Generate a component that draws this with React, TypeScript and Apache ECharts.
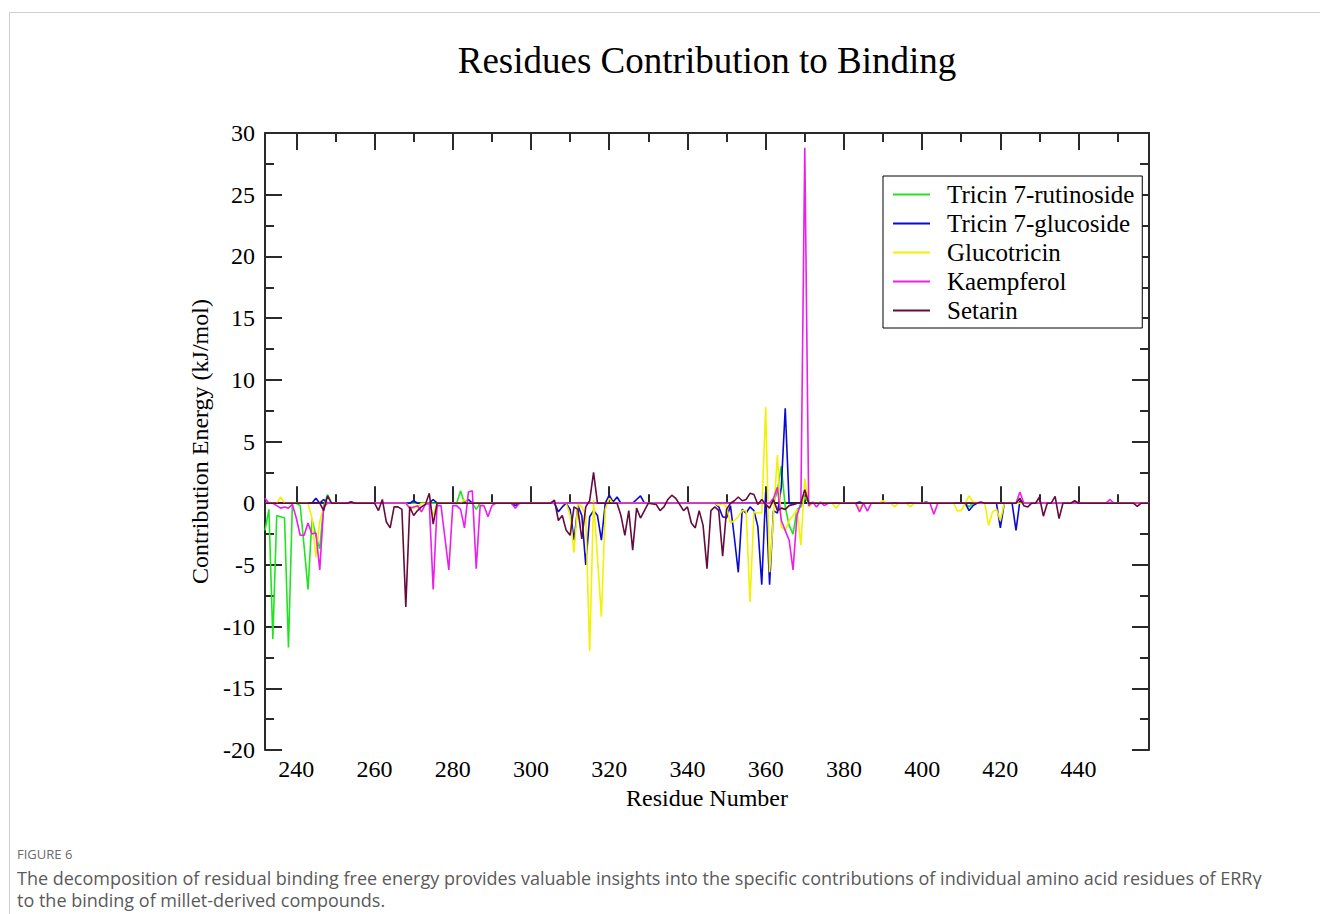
import React, { useEffect, useRef } from "react";
import * as echarts from "echarts";

const seriesNames = ["Tricin 7-rutinoside", "Tricin 7-glucoside", "Glucotricin", "Kaempferol", "Setarin"];
const seriesColors = ["#1ee61e", "#0a0ad2", "#f2f200", "#ec1eec", "#650c3c"];

const majorX = [240, 260, 280, 300, 320, 340, 360, 380, 400, 420, 440];
const minorX = [250, 270, 290, 310, 330, 350, 370, 390, 410, 430, 450];

const rutinoside: [number, number][] = [
  [232, -2.2], [233, -0.5], [234, -11.0], [235, -1.0], [236, -1.1], [237, -1.2], [238, -11.7], [239, 0], [240, 0],
  [241, -0.2], [242, -3.5], [243, -7.0], [244, -1.3], [245, -2.6], [246, -3.7], [247, -0.2], [248, 0.7], [249, 0],
  [281, 0], [282, 1.0], [283, 0], [285, 0], [286, -0.5], [287, 0], [362, 0], [363, 1.0], [364, 3.0], [365, -0.3],
  [366, -1.8], [367, -2.5], [368, -0.5], [369, -0.3], [370, 0.5], [371, 0], [411, 0], [412, -0.3], [413, 0], [458, 0],
];

const glucoside: [number, number][] = [
  [232, 0.1], [233, 0], [244, 0], [245, 0.4], [246, 0], [247, 0.3], [248, 0], [253, 0], [254, 0.1], [255, 0],
  [269, 0], [270, 0.2], [271, 0], [274, 0], [275, 0.3], [276, 0], [283, 0], [284, 0.3], [285, 0], [295, 0],
  [296, -0.2], [297, 0], [306, 0], [307, -0.7], [308, -0.3], [309, 0], [310, -0.5], [311, -3.0], [312, -0.2],
  [313, -1.0], [314, -5.0], [315, -1.1], [316, -0.6], [317, -1.0], [318, -3.0], [319, 0], [320, 0.65], [321, 0.1],
  [322, 0.5], [323, 0], [326, 0], [327, 0.3], [328, 0.6], [329, 0], [347, 0], [348, -0.3], [349, -1.1], [350, -1.2],
  [351, -0.2], [352, -2.8], [353, -5.6], [354, -0.5], [355, -0.8], [356, -0.3], [357, -0.6], [358, -1.9],
  [359, -6.6], [360, 0.9], [361, -6.6], [362, -0.6], [363, -0.8], [364, 1.3], [365, 7.7], [366, 0], [367, -0.1],
  [368, 0], [383, 0], [384, 0.1], [385, 0], [400, 0], [401, 0.1], [402, 0], [411, 0], [412, -0.6], [413, -0.2],
  [414, 0], [419, 0], [420, -2.0], [421, 0], [423, 0], [424, -2.2], [425, 0.2], [426, 0], [458, 0],
];

const glucotricin: [number, number][] = [
  [232, 0], [235, 0], [236, 0.5], [237, 0], [243, 0], [244, -1.2], [245, -4.4], [246, -1.5], [247, -0.3], [248, 0],
  [268, 0], [269, -0.3], [270, -0.4], [271, -0.3], [272, 0], [274, 0], [275, -1.0], [276, 0], [282, 0], [283, 0.3],
  [284, 0], [309, 0], [310, -1.0], [311, -4.0], [312, 0], [313, -0.3], [314, -1.0], [315, -12.0], [316, 0.3],
  [317, -4.4], [318, -9.2], [319, -0.5], [320, 0.4], [321, 0], [347, 0], [348, -0.2], [349, 0], [350, -0.3],
  [351, -1.6], [352, -1.4], [353, -1.1], [354, -0.6], [355, -0.6], [356, -8.0], [357, -0.7], [358, -0.8],
  [359, -0.8], [360, 7.8], [361, -5.6], [362, -1.0], [363, 3.9], [364, -1.9], [365, -2.2], [366, -1.4], [367, -1.0],
  [368, -0.5], [369, -3.4], [370, 2.0], [371, -0.3], [372, 0], [377, 0], [378, -0.4], [379, 0], [383, 0],
  [384, -0.4], [385, 0], [389, 0], [390, 0.2], [391, 0], [392, 0], [393, -0.3], [394, 0], [396, 0], [397, -0.3],
  [398, 0], [408, 0], [409, -0.6], [410, -0.6], [411, 0], [412, 0.6], [413, 0.1], [416, 0], [417, -1.8],
  [418, -0.7], [419, -0.5], [420, -1.4], [421, 0], [458, 0],
];

const kaempferol: [number, number][] = [
  [232, 0.4], [233, 0], [234, 0], [235, -0.2], [236, -0.4], [237, -0.3], [238, -0.4], [239, -0.1], [240, -1.2],
  [241, -2.6], [242, -2.6], [243, -1.6], [244, -2.5], [245, -2.4], [246, -5.4], [247, -0.3], [248, 0], [268, 0],
  [269, -0.4], [270, -0.3], [271, -0.2], [272, -0.7], [273, -0.1], [274, 0], [275, -7.0], [276, -0.2], [277, -0.2],
  [279, -5.4], [280, -0.2], [281, -0.2], [282, -0.5], [283, -2.0], [284, 0.9], [285, 1.0], [286, -5.3], [287, -0.2],
  [288, -0.2], [289, -1.1], [290, -0.2], [291, 0], [295, 0], [296, -0.4], [297, 0], [361, 0], [362, 0.4],
  [363, 1.3], [364, -1.4], [365, -2.2], [366, -3.0], [367, -5.4], [368, -1.0], [369, 0], [370, 28.8], [371, -0.2],
  [372, 0.1], [373, -0.3], [374, 0.1], [375, -0.2], [376, 0], [383, 0], [384, -0.7], [385, 0], [386, -0.65],
  [387, 0], [402, 0], [403, -0.9], [404, 0], [424, 0], [425, 0.9], [426, 0], [447, 0], [448, 0.3], [449, 0], [458, 0],
];

const setarin: [number, number][] = [
  [232, 0], [246, 0], [247, -0.6], [248, 0.6], [249, 0], [253, 0], [254, 0.1], [255, 0], [260, 0], [261, -0.6],
  [262, 0.3], [263, -1.5], [264, -2.0], [265, -0.3], [266, -0.3], [267, -0.5], [268, -8.4], [269, -0.3],
  [270, -1.0], [271, -0.6], [272, -0.3], [273, -0.1], [274, 0.8], [275, -1.7], [276, 0], [305, 0], [306, 0.25],
  [307, -1.4], [308, -1.0], [309, -2.2], [310, -2.6], [311, -0.3], [312, -0.5], [313, -2.9], [314, -0.3],
  [315, 0.2], [316, 2.5], [317, 0], [322, 0], [323, -1.0], [324, -2.6], [325, -0.6], [326, -3.8], [327, -0.4],
  [328, -1.2], [329, -0.6], [330, 0], [332, -0.1], [333, -0.6], [334, -0.3], [335, 0.3], [336, 0.65], [337, 0.4],
  [338, -0.1], [339, -0.6], [340, -0.3], [341, -1.6], [342, -2.0], [343, -0.6], [344, -1.8], [345, -5.3],
  [346, -0.6], [347, -0.3], [348, -0.6], [349, -4.3], [350, -0.5], [351, 0], [352, 0.2], [353, 0.5], [354, 0.2],
  [355, 0.3], [356, 0.8], [357, 0.7], [358, -0.1], [359, 0.3], [360, -0.1], [361, -0.4], [362, 0.3], [363, -0.6],
  [364, -0.4], [365, -0.5], [366, -0.2], [367, -0.1], [368, 0], [369, 0], [370, 1.1], [371, 0], [414, 0],
  [415, 0.1], [416, 0], [424, 0], [425, 0.4], [426, -0.2], [427, -0.3], [428, 0], [429, 0], [430, 0.5],
  [431, -1.05], [432, 0], [433, 0], [434, 0.55], [435, -1.25], [436, 0], [438, 0], [439, 0.2], [440, 0],
  [454, 0], [455, -0.25], [456, 0], [458, 0],
];

const allData = [rutinoside, glucoside, glucotricin, kaempferol, setarin];

const SERIF = "'Liberation Serif', 'Times New Roman', serif";
const SANS = "'Open Sans', 'Noto Sans', sans-serif";
const AX = "#2a2a2a";

export default function App() {
  const ref = useRef<HTMLDivElement>(null);
  useEffect(() => {
    if (!ref.current) return;
    const chart = echarts.init(ref.current, undefined, { renderer: "svg" });
    const xBase = { type: "value", min: 232, max: 458, gridIndex: 0, splitLine: { show: false } };
    const yBase = { type: "value", min: -20, max: 30, interval: 5, splitLine: { show: false } };
    chart.setOption({
      animation: false,
      backgroundColor: "#fff",
      grid: { left: 265, right: 171, top: 133, bottom: 164, containLabel: false, outerBoundsMode: "none" },
      xAxis: [
        {
          ...xBase,
          position: "bottom",
          axisLine: { show: true, lineStyle: { color: AX, width: 2 } },
          axisTick: { show: true, inside: true, length: 17, customValues: majorX, lineStyle: { color: AX, width: 2 } },
          axisLabel: { show: true, customValues: majorX, margin: 7, fontFamily: SERIF, fontSize: 24, color: "#000" },
          name: "Residue Number",
          nameLocation: "middle",
          nameGap: 31,
          nameTextStyle: { fontFamily: SERIF, fontSize: 24, color: "#000" },
        },
        {
          ...xBase,
          position: "bottom",
          axisLine: { show: false },
          axisTick: { show: true, inside: true, length: 9, customValues: minorX, lineStyle: { color: AX, width: 2 } },
          axisLabel: { show: false },
        },
        {
          ...xBase,
          position: "top",
          axisLine: { show: true, lineStyle: { color: AX, width: 2 } },
          axisTick: { show: true, inside: true, length: 17, customValues: majorX, lineStyle: { color: AX, width: 2 } },
          axisLabel: { show: false },
        },
        {
          ...xBase,
          position: "top",
          axisLine: { show: false },
          axisTick: { show: true, inside: true, length: 9, customValues: minorX, lineStyle: { color: AX, width: 2 } },
          axisLabel: { show: false },
        },
      ],
      yAxis: [
        {
          ...yBase,
          position: "left",
          axisLine: { show: true, lineStyle: { color: AX, width: 2 } },
          axisTick: { show: true, inside: true, length: 17, lineStyle: { color: AX, width: 2 } },
          minorTick: { show: true, splitNumber: 2, length: 9, lineStyle: { color: AX, width: 2 } },
          axisLabel: { show: true, margin: 10, fontFamily: SERIF, fontSize: 24, color: "#000" },
          name: "Contribution Energy (kJ/mol)",
          nameLocation: "middle",
          nameGap: 52,
          nameTextStyle: { fontFamily: SERIF, fontSize: 24, color: "#000" },
        },
        {
          ...yBase,
          position: "right",
          axisLine: { show: true, lineStyle: { color: AX, width: 2 } },
          axisTick: { show: true, inside: true, length: 17, lineStyle: { color: AX, width: 2 } },
          minorTick: { show: true, splitNumber: 2, length: 9, lineStyle: { color: AX, width: 2 } },
          axisLabel: { show: false },
        },
      ],
      legend: {
        orient: "vertical",
        left: 883,
        top: 176,
        padding: [6, 8, 5, 10],
        itemWidth: 37,
        itemHeight: 2,
        itemGap: 4,
        icon: "rect",
        borderColor: "#000",
        borderWidth: 1,
        borderRadius: 0,
        backgroundColor: "#fff",
        textStyle: { fontFamily: SERIF, fontSize: 25, lineHeight: 25, color: "#000", padding: [0, 0, 0, 12] },
        data: seriesNames,
      },
      series: seriesNames.map((name, i) => ({
        name,
        type: "line",
        xAxisIndex: 0,
        yAxisIndex: 0,
        data: allData[i],
        showSymbol: false,
        symbol: "none",
        lineStyle: { color: seriesColors[i], width: 1.6 },
        itemStyle: { color: seriesColors[i] },
        z: 2 + i,
      })),
      graphic: [
        {
          type: "rect",
          shape: { x: 9.5, y: 12.5, width: 1400, height: 1000 },
          style: { fill: "none", stroke: "#cfcfcf", lineWidth: 1 },
          silent: true,
        },
        {
          type: "text",
          x: 707,
          y: 60,
          style: {
            text: "Residues Contribution to Binding",
            font: `37px ${SERIF}`,
            fill: "#000",
            textAlign: "center",
            textVerticalAlign: "middle",
          },
        },
        {
          type: "text",
          x: 17,
          y: 854,
          style: { text: "FIGURE 6", font: `13px ${SANS}`, fill: "#6a6a6a", textVerticalAlign: "middle" },
        },
        {
          type: "text",
          x: 17,
          y: 878,
          style: {
            text:
              "The decomposition of residual binding free energy provides valuable insights into the specific contributions of individual amino acid residues of ERR\u03b3",
            font: `18px ${SANS}`,
            fill: "#5a5a5a",
            textVerticalAlign: "middle",
          },
        },
        {
          type: "text",
          x: 17,
          y: 900,
          style: {
            text: "to the binding of millet-derived compounds.",
            font: `18px ${SANS}`,
            fill: "#5a5a5a",
            textVerticalAlign: "middle",
          },
        },
      ],
    });
    return () => chart.dispose();
  }, []);
  return <div ref={ref} style={{ position: "absolute", left: 0, top: 0, width: 1320, height: 914 }} />;
}
